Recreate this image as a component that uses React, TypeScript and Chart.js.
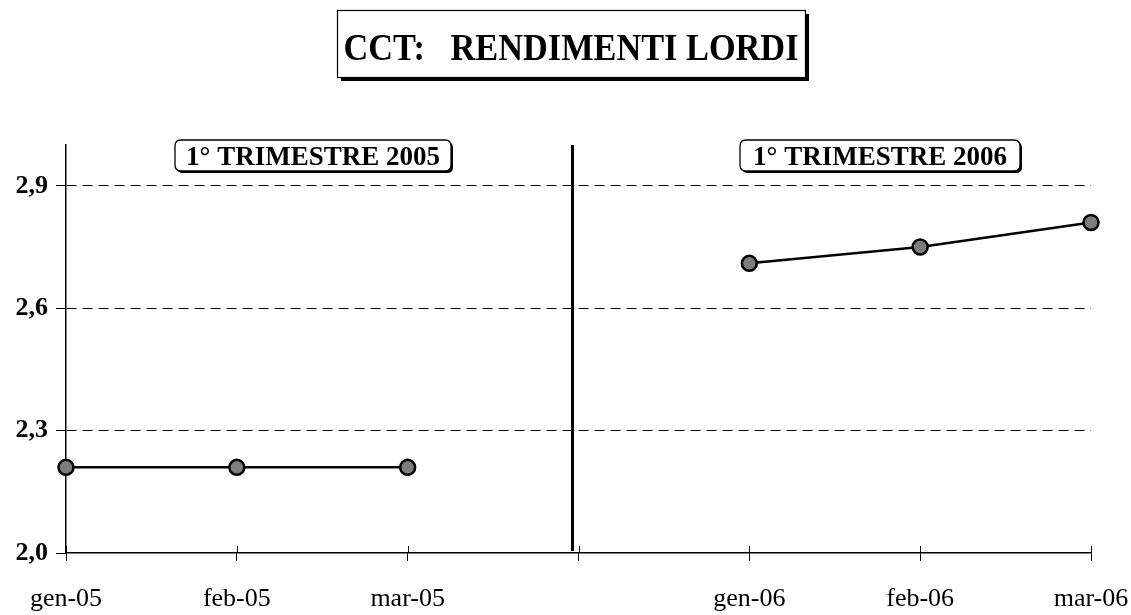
import { useEffect, useRef } from "react";
import { Chart, registerables } from "chart.js";

Chart.register(...registerables);

// ---- data ----
const categories = ["gen-05", "feb-05", "mar-05", "", "gen-06", "feb-06", "mar-06"];
const rendimenti2005 = [2.21, 2.21, 2.21, null, null, null, null];
const rendimenti2006 = [null, null, null, null, 2.71, 2.75, 2.81];
const yTickValues = [2.0, 2.3, 2.6, 2.9];
const yMin = 2.0;
const yMax = 3.0;
const chartTitle = "CCT:   RENDIMENTI LORDI";
const panelTitles = ["1° TRIMESTRE 2005", "1° TRIMESTRE 2006"];
const separatorIndex = 3;

const SERIF = '"Liberation Serif", "Times New Roman", serif';

function roundRect(ctx: CanvasRenderingContext2D, x: number, y: number, w: number, h: number, r: number) {
  ctx.beginPath();
  ctx.moveTo(x + r, y);
  ctx.lineTo(x + w - r, y);
  ctx.quadraticCurveTo(x + w, y, x + w, y + r);
  ctx.lineTo(x + w, y + h - r);
  ctx.quadraticCurveTo(x + w, y + h, x + w - r, y + h);
  ctx.lineTo(x + r, y + h);
  ctx.quadraticCurveTo(x, y + h, x, y + h - r);
  ctx.lineTo(x, y + r);
  ctx.quadraticCurveTo(x, y, x + r, y);
  ctx.closePath();
}

const decorPlugin = {
  id: "decor",
  beforeDatasetsDraw(chart: any) {
    const { ctx, chartArea, scales } = chart;
    const xs = scales.x;
    ctx.save();
    ctx.strokeStyle = "#000";
    // x ticks crossing above the axis
    ctx.lineWidth = 1;
    categories.forEach((_, i) => {
      const px = Math.round(xs.getPixelForValue(i)) + 0.5;
      ctx.beginPath();
      ctx.moveTo(px, chartArea.bottom - 7);
      ctx.lineTo(px, chartArea.bottom);
      ctx.stroke();
    });
    // vertical separator between the two quarters
    const sx = xs.getPixelForValue(separatorIndex) - 6;
    ctx.lineWidth = 3;
    ctx.beginPath();
    ctx.moveTo(sx, chartArea.top);
    ctx.lineTo(sx, chartArea.bottom - 2);
    ctx.stroke();
    ctx.restore();
  },
  afterDraw(chart: any) {
    const { ctx } = chart;
    ctx.save();
    // main title box with drop shadow
    const bL = 337, bT = 10, bW = 468, bH = 67;
    ctx.fillStyle = "#000";
    ctx.fillRect(bL + 4, bT + 4, bW, bH);
    ctx.fillStyle = "#fff";
    ctx.fillRect(bL, bT, bW, bH);
    ctx.strokeStyle = "#000";
    ctx.lineWidth = 1.2;
    ctx.strokeRect(bL + 0.5, bT + 0.5, bW, bH);
    ctx.fillStyle = "#000";
    ctx.font = `bold 37px ${SERIF}`;
    ctx.textBaseline = "alphabetic";
    ctx.textAlign = "left";
    const tw = ctx.measureText(chartTitle).width;
    const target = 455;
    const sc = target / tw;
    ctx.save();
    ctx.translate(bL + (bW - target) / 2, 60);
    ctx.scale(sc, 1);
    ctx.fillText(chartTitle, 0, 0);
    ctx.restore();

    // panel title boxes
    const boxes = [
      { x: 175, w: 276 },
      { x: 740, w: 280 },
    ];
    panelTitles.forEach((t, i) => {
      const b = boxes[i];
      const y = 140, h = 31;
      ctx.fillStyle = "#000";
      roundRect(ctx, b.x + 2, y + 2, b.w, h, 6);
      ctx.fill();
      ctx.fillStyle = "#fff";
      roundRect(ctx, b.x, y, b.w, h, 6);
      ctx.fill();
      ctx.lineWidth = 1.3;
      ctx.strokeStyle = "#000";
      roundRect(ctx, b.x, y, b.w, h, 6);
      ctx.stroke();
      ctx.fillStyle = "#000";
      ctx.font = `bold 27px ${SERIF}`;
      ctx.textAlign = "center";
      ctx.fillText(t, b.x + b.w / 2, y + 25);
    });
    ctx.restore();
  },
};

export default function App() {
  const canvasRef = useRef<HTMLCanvasElement | null>(null);

  useEffect(() => {
    const canvas = canvasRef.current;
    if (!canvas) return;
    const pointStyle = {
      borderColor: "#000",
      borderWidth: 2.5,
      pointRadius: 7.5,
      pointBorderWidth: 2.5,
      pointBackgroundColor: "#7d7d7d",
      pointBorderColor: "#000",
      tension: 0,
      spanGaps: false,
    };
    const chart = new Chart(canvas, {
      type: "line",
      data: {
        labels: categories,
        datasets: [
          { label: "2005", data: rendimenti2005, ...pointStyle },
          { label: "2006", data: rendimenti2006, ...pointStyle },
        ],
      },
      options: {
        animation: false,
        responsive: false,
        layout: { padding: { top: 145, left: 0, right: 40, bottom: 0 } },
        plugins: {
          legend: { display: false },
          tooltip: { enabled: false },
          title: { display: false },
        },
        scales: {
          x: {
            type: "category",
            offset: false,
            afterFit: (scale: any) => {
              scale.height = 62;
              scale.paddingLeft = 0;
              scale.paddingRight = 0;
            },
            grid: {
              drawOnChartArea: false,
              drawTicks: true,
              tickLength: 8,
              color: "#000",
              lineWidth: 1,
            },
            border: { display: true, color: "#000", width: 1.5 },
            ticks: {
              autoSkip: false,
              maxRotation: 0,
              color: "#000",
              padding: 23,
              font: { family: SERIF, size: 26 },
            },
          },
          y: {
            type: "linear",
            min: yMin,
            max: yMax,
            afterFit: (scale: any) => {
              scale.width = 66;
              scale.paddingTop = 0;
              scale.paddingBottom = 0;
            },
            afterBuildTicks: (scale: any) => {
              scale.ticks = yTickValues.map((v) => ({ value: v }));
            },
            grid: {
              drawOnChartArea: true,
              drawTicks: true,
              tickLength: 10,
              color: (c: any) => (c.tick && Math.abs(c.tick.value - yMin) < 1e-9 ? "rgba(0,0,0,0)" : "#000"),
              tickColor: "#000",
              lineWidth: 1,
              tickBorderDash: [],
            },
            border: { display: true, color: "#000", width: 1.5, dash: [10, 6] },
            ticks: {
              color: "#000",
              padding: 8,
              font: { family: SERIF, size: 26, weight: "bold" },
              callback: (v: any) => Number(v).toFixed(1).replace(".", ","),
            },
          },
        },
      },
      plugins: [decorPlugin],
    });
    return () => chart.destroy();
  }, []);

  return (
    <div style={{ position: "absolute", left: 0, top: 0, width: 1131, height: 615, background: "#fff" }}>
      <canvas ref={canvasRef} width={1131} height={615} style={{ display: "block" }} />
    </div>
  );
}
